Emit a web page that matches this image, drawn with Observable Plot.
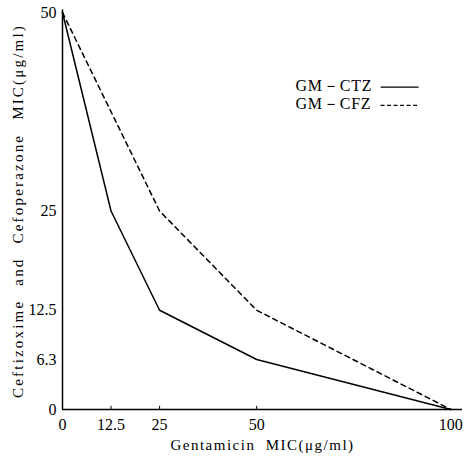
<!DOCTYPE html>
<html>
<head>
<meta charset="utf-8">
<script src="https://cdn.jsdelivr.net/npm/d3@7"></script>
<script src="https://cdn.jsdelivr.net/npm/@observablehq/plot@0.6"></script>
<style>
  html, body { margin: 0; padding: 0; background: #fff; }
  #chart svg { display: block; }
</style>
</head>
<body>
<div id="chart"></div>
<script>
// Gentamicin MIC (x) values
const gmCTZ = [0, 12.5, 25, 50, 100];
const ctzMIC = [50, 25, 12.5, 6.3, 0];
const gmCFZ = [0, 25, 50, 100];
const cfzMIC = [50, 25, 12.5, 0];
const xTicks = [0, 12.5, 25, 50, 100];
const yTicks = [0, 6.3, 12.5, 25, 50];
const seriesNames = ["GM－CTZ", "GM－CFZ"];
const xLabel = "Gentamicin MIC(μg/ml)";
const yLabel = "Ceftizoxime and Cefoperazone MIC(μg/ml)";

const ctz = gmCTZ.map((x, i) => ({x, y: ctzMIC[i]}));
const cfz = gmCFZ.map((x, i) => ({x, y: cfzMIC[i]}));

// legend rows placed in data space (upper right)
const legend = seriesNames.map((name, i) => ({
  name,
  tx: 60, ty: 40.8 - i * 2.3,
  lx1: 81.9, lx2: 91.7, ly: 40.6 - i * 2.3
}));

const font = "'Liberation Serif', 'DejaVu Serif', serif";
const ink = "#000";

const plot = Plot.plot({
  width: 469,
  height: 458,
  marginLeft: 62,
  marginRight: 7,
  marginTop: 12,
  marginBottom: 49,
  style: {fontFamily: font, fontSize: "16px", color: ink, background: "#fff"},
  x: {domain: [0, 103]},
  y: {domain: [0, 50]},
  marks: [
    Plot.axisX(xTicks, {tickSize: 0, tickPadding: 9, fontSize: 16, label: null,
      tickFormat: d => String(d)}),
    Plot.axisY(yTicks, {tickSize: 0, tickPadding: 6, fontSize: 16, label: null,
      tickFormat: d => String(d)}),
    Plot.ruleX(xTicks.slice(1, 4), {y1: 0, y2: 0.4, stroke: ink}),
    Plot.ruleX([0], {y1: 0, y2: 50.3, stroke: ink, strokeWidth: 1.5}),
    Plot.ruleY([0], {x1: 0, x2: 103, stroke: ink, strokeWidth: 1.5}),
    Plot.line(ctz, {x: "x", y: "y", stroke: ink, strokeWidth: 1.5}),
    Plot.line(cfz, {x: "x", y: "y", stroke: ink, strokeWidth: 1.5, strokeDasharray: "5,4"}),
    Plot.text(legend, {x: "tx", y: "ty", text: "name", textAnchor: "start", fontSize: 16, fill: ink}),
    Plot.link(legend.slice(0, 1), {x1: "lx1", x2: "lx2", y1: "ly", y2: "ly", stroke: ink, strokeWidth: 1.2}),
    Plot.link(legend.slice(1, 2), {x1: "lx1", x2: "lx2", y1: "ly", y2: "ly", stroke: ink, strokeWidth: 1.2,
      strokeDasharray: "4,2.5"}),
    Plot.text([xLabel], {frameAnchor: "bottom", text: d => d, dy: 40, fontSize: 15, fill: ink, textAnchor: "middle"}),
    Plot.text([yLabel], {frameAnchor: "left", text: d => d, rotate: -90, dx: -44, fontSize: 15, fill: ink, textAnchor: "middle"})
  ]
});

d3.select(plot).selectAll("text").each(function() {
  const t = this.textContent;
  if (t === xLabel) d3.select(this).style("letter-spacing", "1.5px").style("word-spacing", "5px");
  if (t === yLabel) d3.select(this).style("letter-spacing", "2.2px").style("word-spacing", "8px");
  if (seriesNames.includes(t)) d3.select(this).style("letter-spacing", "0.8px");
});

document.getElementById("chart").appendChild(plot);
</script>
</body>
</html>
